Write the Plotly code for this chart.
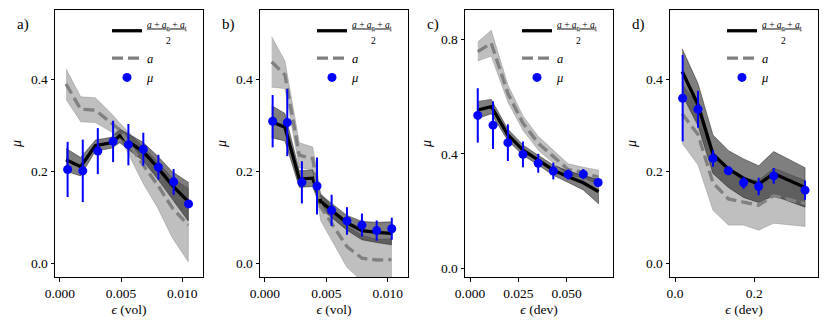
import plotly.graph_objects as go

# ---- panel a) : volumetric strain
eps_a = [0.00063, 0.00187, 0.0031, 0.00435, 0.0056, 0.00682, 0.00805, 0.0093, 0.01052]
mu_a = [0.204, 0.201, 0.244, 0.265, 0.258, 0.248, 0.209, 0.177, 0.129]
mu_err_a = [0.06, 0.068, 0.05, 0.045, 0.045, 0.036, 0.027, 0.028, 0.004]
line_eps_a = [0.0005, 0.0017, 0.0029, 0.0042, 0.0049, 0.0068, 0.0080, 0.0092, 0.0105]
comb_a = [0.225, 0.21, 0.256, 0.262, 0.277, 0.243, 0.208, 0.169, 0.134]
comb_err_a = [0.025, 0.02, 0.012, 0.012, 0.015, 0.02, 0.025, 0.03, 0.042]
a_a = [0.39, 0.335, 0.333, 0.306, 0.29, 0.214, 0.17, 0.12, 0.083]
a_err_a = [0.033, 0.027, 0.027, 0.02, 0.015, 0.04, 0.05, 0.065, 0.08]

# ---- panel b) : volumetric strain
eps_b = [0.00063, 0.00182, 0.00301, 0.00424, 0.00543, 0.00668, 0.0079, 0.0091, 0.01033]
mu_b = [0.309, 0.306, 0.176, 0.168, 0.115, 0.092, 0.083, 0.071, 0.075]
mu_err_b = [0.057, 0.073, 0.046, 0.062, 0.034, 0.03, 0.025, 0.022, 0.024]
line_eps_b = [0.00055, 0.00163, 0.0028, 0.00389, 0.00454, 0.00668, 0.0079, 0.0091, 0.0103]
comb_b = [0.308, 0.296, 0.183, 0.185, 0.134, 0.088, 0.071, 0.067, 0.065]
comb_err_b = [0.035, 0.03, 0.018, 0.018, 0.015, 0.016, 0.02, 0.022, 0.025]
a_b = [0.438, 0.41, 0.235, 0.228, 0.123, 0.036, 0.011, 0.007, 0.008]
a_err_b = [0.055, 0.03, 0.027, 0.025, 0.03, 0.045, 0.05, 0.045, 0.045]

# ---- panel c) : deviatoric strain
eps_c = [0.004, 0.0119, 0.0196, 0.0274, 0.0353, 0.0431, 0.0508, 0.0586, 0.0663]
mu_c = [0.534, 0.5, 0.439, 0.398, 0.367, 0.34, 0.328, 0.329, 0.3]
mu_err_c = [0.095, 0.083, 0.064, 0.045, 0.033, 0.029, 0.018, 0.018, 0.011]
line_eps_c = [0.004, 0.011, 0.0196, 0.0274, 0.0353, 0.0431, 0.0508, 0.0586, 0.0665]
comb_c = [0.553, 0.565, 0.466, 0.413, 0.378, 0.343, 0.32, 0.299, 0.268]
comb_err_c = [0.03, 0.025, 0.02, 0.018, 0.017, 0.018, 0.02, 0.025, 0.042]
a_c = [0.757, 0.786, 0.611, 0.507, 0.437, 0.39, 0.345, 0.335, 0.318]
a_err_c = [0.033, 0.045, 0.03, 0.025, 0.024, 0.023, 0.02, 0.018, 0.025]

# ---- panel d) : deviatoric strain
eps_d = [0.0193, 0.058, 0.0958, 0.1345, 0.173, 0.211, 0.249, 0.328]
mu_d = [0.359, 0.335, 0.228, 0.201, 0.175, 0.167, 0.19, 0.159]
mu_err_d = [0.094, 0.04, 0.018, 0.008, 0.013, 0.019, 0.017, 0.021]
line_eps_d = [0.018, 0.058, 0.0958, 0.1345, 0.173, 0.211, 0.249, 0.328]
comb_d = [0.417, 0.345, 0.237, 0.205, 0.185, 0.172, 0.195, 0.165]
comb_err_d = [0.05, 0.046, 0.042, 0.04, 0.042, 0.04, 0.048, 0.043]
a_d = [0.325, 0.28, 0.175, 0.14, 0.133, 0.126, 0.147, 0.13]
a_err_d = [0.064, 0.066, 0.06, 0.057, 0.05, 0.054, 0.06, 0.05]

# ticks
xt_ab = [0.0, 0.005, 0.010]
xt_ab_text = ["0.000", "0.005", "0.010"]
xt_c = [0.0, 0.025, 0.050]
xt_c_text = ["0.000", "0.025", "0.050"]
xt_d = [0.0, 0.2]
xt_d_text = ["0.0", "0.2"]
yt = [0.0, 0.2, 0.4]
yt_text = ["0.0", "0.2", "0.4"]
yt_c = [0.0, 0.4, 0.8]
yt_c_text = ["0.0", "0.4", "0.8"]

panel_labels = ["a)", "b)", "c)", "d)"]
xlabels = ["<i>ϵ</i> (vol)", "<i>ϵ</i> (vol)", "<i>ϵ</i> (dev)", "<i>ϵ</i> (dev)"]

SERIF = "Liberation Serif"
COMB_NAME = ("<span style='font-size:9.5px'><u><i>a</i> + <i>a</i><sub>n</sub> + <i>a</i><sub>t</sub></u></span>"
             "<br><span style='font-size:9.5px'>&nbsp;&nbsp;&nbsp;&nbsp;&nbsp;&nbsp;&nbsp;&nbsp;2</span>")

panels = [
    (eps_a, mu_a, mu_err_a, line_eps_a, comb_a, comb_err_a, a_a, a_err_a),
    (eps_b, mu_b, mu_err_b, line_eps_b, comb_b, comb_err_b, a_b, a_err_b),
    (eps_c, mu_c, mu_err_c, line_eps_c, comb_c, comb_err_c, a_c, a_err_c),
    (eps_d, mu_d, mu_err_d, line_eps_d, comb_d, comb_err_d, a_d, a_err_d),
]

# the page body has an 8px margin, so the figure is drawn 8px in from the window corner
OFF = 8
W, H = 830 - 2 * OFF, 332 - 2 * OFF
# panel geometry in window pixels
box_left = [55, 260, 465, 670]
box_w = 148
box_top, box_bot = 10, 277
x_ranges = [[-0.0004, 0.0117], [-0.0004, 0.01165], [-0.0026, 0.074], [-0.0126, 0.3607]]
y_ranges = [[-0.03, 0.551], [-0.03, 0.551], [-0.03, 0.902], [-0.03, 0.551]]
x_ticks = [(xt_ab, xt_ab_text), (xt_ab, xt_ab_text), (xt_c, xt_c_text), (xt_d, xt_d_text)]
y_ticks = [(yt, yt_text), (yt, yt_text), (yt_c, yt_c_text), (yt, yt_text)]


def px_x(x):
    return (x - OFF) / W


def px_y(y):
    return 1 - (y - OFF) / H


fig = go.Figure()

for i, (ex, mu, mu_err, lx, comb, comb_err, a, a_err) in enumerate(panels):
    n = i + 1
    xa = "x" if n == 1 else f"x{n}"
    ya = "y" if n == 1 else f"y{n}"
    leg = "legend" if n == 1 else f"legend{n}"

    a_hi = [v + e for v, e in zip(a, a_err)]
    a_lo = [v - e for v, e in zip(a, a_err)]
    c_hi = [v + e for v, e in zip(comb, comb_err)]
    c_lo = [v - e for v, e in zip(comb, comb_err)]

    # shaded bands
    fig.add_trace(go.Scatter(x=lx + lx[::-1], y=a_hi + a_lo[::-1], mode="lines", fill="toself",
                             fillcolor="rgba(128,128,128,0.5)", line=dict(width=0.8, color="rgba(128,128,128,0.5)"),
                             hoverinfo="skip", showlegend=False, xaxis=xa, yaxis=ya))
    fig.add_trace(go.Scatter(x=lx + lx[::-1], y=c_hi + c_lo[::-1], mode="lines", fill="toself",
                             fillcolor="rgba(0,0,0,0.5)", line=dict(width=0.8, color="rgba(0,0,0,0.5)"),
                             hoverinfo="skip", showlegend=False, xaxis=xa, yaxis=ya))
    # lines
    fig.add_trace(go.Scatter(x=lx, y=comb, mode="lines", name=COMB_NAME, legend=leg, legendrank=1,
                             line=dict(color="black", width=3.3), xaxis=xa, yaxis=ya))
    fig.add_trace(go.Scatter(x=lx, y=a, mode="lines", name="<i>a</i>", legend=leg, legendrank=2,
                             line=dict(color="#808080", width=3.3, dash="11px,5px"), xaxis=xa, yaxis=ya))
    # measured friction
    fig.add_trace(go.Scatter(x=ex, y=mu, mode="markers", name="<i>μ</i>", legend=leg, legendrank=3,
                             marker=dict(color="blue", size=9),
                             error_y=dict(type="data", array=mu_err, color="blue", thickness=2, width=0),
                             xaxis=xa, yaxis=ya))

layout = dict(
    width=W, height=H,
    margin=dict(l=0, r=0, t=0, b=0, autoexpand=False),
    paper_bgcolor="white", plot_bgcolor="white",
    font=dict(family=SERIF, size=13.5, color="black"),
)

axis_common = dict(showgrid=False, zeroline=False, showline=True, linecolor="black", linewidth=1,
                   mirror=True, ticks="outside", ticklen=3.5, tickwidth=1, tickcolor="black",
                   automargin=False,
                   tickfont=dict(family=SERIF, size=13.5, color="black"))

annotations = []
for i in range(4):
    n = i + 1
    xk = "xaxis" if n == 1 else f"xaxis{n}"
    yk = "yaxis" if n == 1 else f"yaxis{n}"
    layout[xk] = dict(axis_common, domain=[px_x(box_left[i]), px_x(box_left[i] + box_w)],
                      range=x_ranges[i], anchor="y" if n == 1 else f"y{n}",
                      tickvals=x_ticks[i][0], ticktext=x_ticks[i][1],
                      title=dict(text=xlabels[i], font=dict(family=SERIF, size=13.5), standoff=4))
    layout[yk] = dict(axis_common, domain=[px_y(box_bot), px_y(box_top)],
                      range=y_ranges[i], anchor="x" if n == 1 else f"x{n}",
                      tickvals=y_ticks[i][0], ticktext=y_ticks[i][1],
                      title=dict(text="<i>μ</i>", font=dict(family=SERIF, size=14), standoff=6))
    lk = "legend" if n == 1 else f"legend{n}"
    layout[lk] = dict(x=px_x(box_left[i] + 52), y=px_y(OFF), xanchor="left", yanchor="top",
                      bgcolor="rgba(0,0,0,0)", borderwidth=0, itemwidth=30,
                      font=dict(family=SERIF, size=12.5, color="black"), tracegroupgap=0)
    annotations.append(dict(text=panel_labels[i], x=px_x(box_left[i] - 40), y=px_y(25),
                            xref="paper", yref="paper", showarrow=False, xanchor="left", yanchor="middle",
                            font=dict(family=SERIF, size=15, color="black")))

layout["annotations"] = annotations
fig.update_layout(**layout)

fig.write_html("out.html")
